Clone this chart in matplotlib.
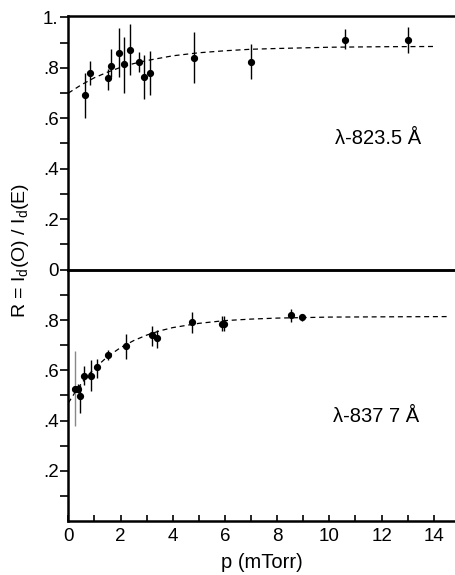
import matplotlib
matplotlib.use("Agg")
import matplotlib.pyplot as plt
from matplotlib.ticker import MultipleLocator, FixedLocator, FixedFormatter

plt.rcParams['font.family'] = ['Liberation Sans', 'DejaVu Sans']
plt.rcParams['mathtext.fontset'] = 'custom'
plt.rcParams['mathtext.rm'] = 'Liberation Sans'

# ---- top panel data (lambda 823.5 A) ----
top_p = [0.64, 0.83, 1.53, 1.62, 1.93, 2.13, 2.35, 2.72, 2.91, 3.13, 4.82, 7.0, 10.6, 13.03]
top_R = [0.692, 0.778, 0.758, 0.808, 0.858, 0.815, 0.871, 0.822, 0.762, 0.778, 0.838, 0.824, 0.911, 0.911]
top_hi = [0.780, 0.828, 0.797, 0.875, 0.957, 0.921, 0.973, 0.862, 0.851, 0.868, 0.941, 0.893, 0.954, 0.961]
top_lo = [0.600, 0.734, 0.712, 0.762, 0.762, 0.701, 0.771, 0.785, 0.676, 0.692, 0.742, 0.755, 0.875, 0.860]
top_fit_p = [0, 0.5, 1, 1.5, 2, 2.5, 3, 4, 5, 6, 7, 8, 10, 12, 14.1]
top_fit_R = [0.700, 0.733, 0.761, 0.783, 0.802, 0.817, 0.829, 0.848, 0.860, 0.868, 0.874, 0.877, 0.882, 0.884, 0.885]

# ---- bottom panel data (lambda 837.7 A) ----
bot_p = [0.24, 0.36, 0.45, 0.61, 0.86, 1.09, 1.53, 2.21, 3.19, 3.39, 4.75, 5.88, 5.97, 8.53, 8.94]
bot_R = [0.526, 0.526, 0.499, 0.576, 0.579, 0.612, 0.660, 0.699, 0.741, 0.730, 0.792, 0.786, 0.786, 0.823, 0.812]
bot_hi = [0.679, 0.545, 0.543, 0.616, 0.640, 0.646, 0.683, 0.747, 0.779, 0.763, 0.832, 0.816, 0.816, 0.846, 0.826]
bot_lo = [0.380, 0.510, 0.431, 0.543, 0.516, 0.570, 0.643, 0.646, 0.699, 0.690, 0.750, 0.756, 0.756, 0.792, 0.796]
bot_fit_p = [0, 0.25, 0.5, 0.75, 1, 1.5, 2, 2.5, 3, 3.5, 4, 5, 6, 7, 8, 10, 12, 14.5]
bot_fit_R = [0.470, 0.511, 0.548, 0.580, 0.608, 0.655, 0.691, 0.719, 0.741, 0.758, 0.771, 0.788, 0.799, 0.805, 0.809, 0.813, 0.814, 0.815]

top_label = "λ-823.5 Å"
bot_label = "λ-837 7 Å"

fig = plt.figure(figsize=(4.56, 5.75), dpi=100)
ax1 = fig.add_axes([0.1498, 0.5313, 0.8502, 0.4409])
ax2 = fig.add_axes([0.1498, 0.0944, 0.8502, 0.4369])
ax2.patch.set_visible(False)

XMAX = 14.85

def draw(ax, p, R, hi, lo, fp, fR, ecolors):
    for x, y, h, l, c in zip(p, R, hi, lo, ecolors):
        ax.plot([x, x], [l, h], color=c, lw=1.0, solid_capstyle='butt', zorder=2)
    ax.plot(p, R, 'o', color='black', ms=4.2, zorder=3)
    ax.plot(fp, fR, color='black', lw=0.9, dashes=(4, 3), zorder=1)

draw(ax1, top_p, top_R, top_hi, top_lo, top_fit_p, top_fit_R, ['black'] * len(top_p))
draw(ax2, bot_p, bot_R, bot_hi, bot_lo, bot_fit_p, bot_fit_R,
     ['#888888'] + ['black'] * (len(bot_p) - 1))

for ax in (ax1, ax2):
    ax.set_xlim(0, XMAX)
    ax.spines['right'].set_visible(False)
    for s in ('left', 'bottom', 'top'):
        ax.spines[s].set_linewidth(1.8)
    ax.tick_params(axis='y', which='both', direction='out', length=6, width=1.2,
                   labelsize=13.5, pad=1)

# top panel
ax1.set_ylim(0, 1.006)
ax1.yaxis.set_major_locator(FixedLocator([0, 0.2, 0.4, 0.6, 0.8, 1.0]))
ax1.yaxis.set_major_formatter(FixedFormatter(['0', '.2', '.4', '.6', '.8', '1.']))
ax1.yaxis.set_minor_locator(FixedLocator([0.1, 0.3, 0.5, 0.7, 0.9]))
ax1.set_xticks([])
ax1.text(0.91, 0.518, top_label, transform=ax1.transAxes, ha='right', va='center',
         fontsize=14.5)

# bottom panel
ax2.set_ylim(0, 1.003)
ax2.yaxis.set_major_locator(FixedLocator([0.2, 0.4, 0.6, 0.8]))
ax2.yaxis.set_major_formatter(FixedFormatter(['.2', '.4', '.6', '.8']))
ax2.yaxis.set_minor_locator(FixedLocator([0.1, 0.3, 0.5, 0.7, 0.9]))
ax2.xaxis.set_major_locator(MultipleLocator(2))
ax2.xaxis.set_minor_locator(MultipleLocator(1))
ax2.tick_params(axis='x', which='both', direction='in', length=4, width=1.2,
                labelsize=13.5, pad=5)
ax2.text(0.905, 0.414, bot_label, transform=ax2.transAxes, ha='right', va='center',
         fontsize=14.5)
ax2.set_xlabel("p (mTorr)", fontsize=14.5, labelpad=6)

fig.text(0.045, 0.565, r"R = I$_{\mathrm{d}}$(O) / I$_{\mathrm{d}}$(E)", rotation=90,
         ha='center', va='center', fontsize=14)

fig.savefig("out.png", dpi=100)
